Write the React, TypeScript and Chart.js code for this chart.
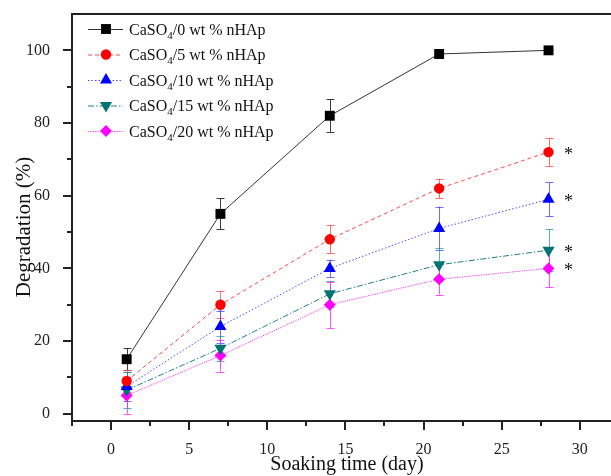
import React, { useEffect, useRef } from 'react';
import { Chart, registerables } from 'chart.js';

Chart.register(...registerables);

// ---------- data ----------
const days = [1, 7, 14, 21, 28];
const nhapContents = ['0', '5', '10', '15', '20'];
const deg0 = [15, 55, 82, 99, 100];
const err0 = [3, 4.3, 4.5, 1.2, 0.3];
const deg5 = [9, 30, 48, 62, 72];
const err5 = [3, 3.7, 3.8, 2.7, 3.8];
const deg10 = [7.5, 24, 40, 51, 59];
const err10 = [4, 4.4, 2.4, 6, 4.7];
const deg15 = [6.5, 18, 33, 41, 45];
const err15 = [5, 3.5, 3.5, 4.6, 5.7];
const deg20 = [5, 16, 30, 37, 40];
const err20 = [5, 4.4, 6.3, 4.2, 5.2];
const significant = [false, true, true, true, true]; // asterisk at last day

const xMajorTicks = [0, 5, 10, 15, 20, 25, 30];
const xMinorTicks = [-2.5, 2.5, 7.5, 12.5, 17.5, 22.5, 27.5];
const yMajorTicks = [0, 20, 40, 60, 80, 100];
const yMinorTicks = [10, 30, 50, 70, 90];

const xTitle = 'Soaking time (day)';
const yTitle = 'Degradation (%)';

// ---------- styles ----------
const FONT = '"Liberation Serif", "Times New Roman", Times, serif';
const styles = [
  { line: '#333333', fill: '#000000', err: 'rgba(0,0,0,0.75)', dash: [], shape: 'rect', r: 7, rot: 0 },
  { line: '#ff4a4a', fill: '#ff0000', err: 'rgba(255,60,60,0.75)', dash: [4, 3], shape: 'circle', r: 5.2, rot: 0 },
  { line: '#4a4aff', fill: '#0000ff', err: 'rgba(60,60,255,0.75)', dash: [1.5, 2], shape: 'triangle', r: 7, rot: 0 },
  { line: '#208080', fill: '#007373', err: 'rgba(40,150,150,0.75)', dash: [6, 2, 1.5, 2], shape: 'triangle', r: 7, rot: 180 },
  { line: '#ff33ff', fill: '#ff00ff', err: 'rgba(255,40,255,0.8)', dash: [1.2, 1.2], shape: 'rectRot', r: 6, rot: 0 },
];
const seriesValues = [deg0, deg5, deg10, deg15, deg20];
const seriesErrors = [err0, err5, err10, err15, err20];

function drawMarker(ctx: CanvasRenderingContext2D, shape: string, rot: number, x: number, y: number, r: number, color: string) {
  ctx.save();
  ctx.fillStyle = color;
  ctx.beginPath();
  if (shape === 'rect') {
    const s = Math.SQRT1_2 * r;
    ctx.rect(x - s, y - s, 2 * s, 2 * s);
  } else if (shape === 'circle') {
    ctx.arc(x, y, r, 0, Math.PI * 2);
  } else if (shape === 'triangle') {
    let a = (rot * Math.PI) / 180 - Math.PI / 2;
    ctx.moveTo(x + Math.cos(a) * r, y + Math.sin(a) * r);
    for (let k = 1; k < 3; k++) {
      a += (2 * Math.PI) / 3;
      ctx.lineTo(x + Math.cos(a) * r, y + Math.sin(a) * r);
    }
  } else if (shape === 'rectRot') {
    ctx.moveTo(x - r, y);
    ctx.lineTo(x, y - r);
    ctx.lineTo(x + r, y);
    ctx.lineTo(x, y + r);
  }
  ctx.closePath();
  ctx.fill();
  ctx.restore();
}

const decorPlugin = {
  id: 'decor',
  beforeDatasetsDraw(chart: any) {
    const ctx: CanvasRenderingContext2D = chart.ctx;
    const xs = chart.scales.x;
    const ys = chart.scales.y;
    ctx.save();
    ctx.lineWidth = 1;
    seriesValues.forEach((vals, si) => {
      ctx.strokeStyle = styles[si].err;
      vals.forEach((v, i) => {
        const e = seriesErrors[si][i];
        const px = Math.round(xs.getPixelForValue(days[i])) + 0.5;
        const y1 = ys.getPixelForValue(v + e);
        const y2 = ys.getPixelForValue(v - e);
        ctx.beginPath();
        ctx.moveTo(px, y1);
        ctx.lineTo(px, y2);
        ctx.moveTo(px - 4, Math.round(y1) + 0.5);
        ctx.lineTo(px + 4, Math.round(y1) + 0.5);
        ctx.moveTo(px - 4, Math.round(y2) + 0.5);
        ctx.lineTo(px + 4, Math.round(y2) + 0.5);
        ctx.stroke();
      });
    });
    ctx.restore();
  },
  afterDraw(chart: any) {
    const ctx: CanvasRenderingContext2D = chart.ctx;
    const xs = chart.scales.x;
    const ys = chart.scales.y;
    const { left, right, top, bottom } = chart.chartArea;
    ctx.save();
    // axes frame
    ctx.strokeStyle = '#222222';
    ctx.lineWidth = 2;
    ctx.beginPath();
    ctx.moveTo(left, top);
    ctx.lineTo(right + 2, top);
    ctx.moveTo(left, top - 1);
    ctx.lineTo(left, bottom + 1);
    ctx.moveTo(left - 1, bottom);
    ctx.lineTo(right + 2, bottom);
    ctx.stroke();
    // ticks
    ctx.lineWidth = 2;
    ctx.beginPath();
    xMajorTicks.forEach((v) => {
      const px = Math.round(xs.getPixelForValue(v));
      ctx.moveTo(px, bottom);
      ctx.lineTo(px, bottom + 9);
    });
    xMinorTicks.forEach((v) => {
      const px = Math.round(xs.getPixelForValue(v));
      ctx.moveTo(px, bottom);
      ctx.lineTo(px, bottom + 5);
    });
    yMajorTicks.forEach((v) => {
      const py = Math.round(ys.getPixelForValue(v));
      ctx.moveTo(left, py);
      ctx.lineTo(left - 9, py);
    });
    yMinorTicks.forEach((v) => {
      const py = Math.round(ys.getPixelForValue(v));
      ctx.moveTo(left, py);
      ctx.lineTo(left - 5, py);
    });
    ctx.stroke();

    // axis titles
    ctx.fillStyle = '#111111';
    ctx.font = `20px ${FONT}`;
    ctx.textAlign = 'center';
    ctx.textBaseline = 'middle';
    ctx.fillText(xTitle, 347, 465);
    ctx.save();
    ctx.translate(24, 227);
    ctx.rotate(-Math.PI / 2);
    ctx.font = `21px ${FONT}`;
    ctx.fillText(yTitle, 0, 0);
    ctx.restore();

    // asterisks
    ctx.font = `18px ${FONT}`;
    ctx.textAlign = 'center';
    ctx.textBaseline = 'middle';
    seriesValues.forEach((vals, si) => {
      if (!significant[si]) return;
      const last = vals.length - 1;
      const px = xs.getPixelForValue(days[last]) + 20;
      const py = ys.getPixelForValue(vals[last]) + 3;
      ctx.fillText('*', px, py);
    });

    // legend
    const lx0 = 88, lx1 = 123, mx = 106, tx = 129;
    seriesValues.forEach((_, si) => {
      const st = styles[si];
      const y = 29 + si * 25.5;
      ctx.save();
      ctx.strokeStyle = st.line;
      ctx.lineWidth = 1;
      ctx.setLineDash(st.dash);
      ctx.beginPath();
      ctx.moveTo(lx0, y + 0.5);
      ctx.lineTo(lx1, y + 0.5);
      ctx.stroke();
      ctx.restore();
      drawMarker(ctx, st.shape, st.rot, mx, y, st.r, st.fill);
      ctx.fillStyle = '#111111';
      ctx.textAlign = 'left';
      ctx.textBaseline = 'alphabetic';
      const base = y + 5.5;
      ctx.font = `16px ${FONT}`;
      let x = tx;
      ctx.fillText('CaSO', x, base);
      x += ctx.measureText('CaSO').width;
      ctx.font = `11px ${FONT}`;
      ctx.fillText('4', x, base + 4);
      x += ctx.measureText('4').width;
      ctx.font = `16px ${FONT}`;
      ctx.fillText(`/${nhapContents[si]} wt % nHAp`, x, base);
    });
    ctx.restore();
  },
};

function zeroPadding(scale: any) {
  scale.paddingTop = 0;
  scale.paddingBottom = 0;
  scale.paddingLeft = 0;
  scale.paddingRight = 0;
}

export default function App() {
  const canvasRef = useRef<HTMLCanvasElement | null>(null);

  useEffect(() => {
    const canvas = canvasRef.current;
    if (!canvas) return;
    const datasets = seriesValues.map((vals, si) => {
      const st = styles[si];
      return {
        label: `CaSO4/${nhapContents[si]} wt % nHAp`,
        data: days.map((d, i) => ({ x: d, y: vals[i] })),
        borderColor: st.line,
        backgroundColor: st.fill,
        borderWidth: 1,
        borderDash: st.dash,
        pointStyle: st.shape,
        pointRotation: st.rot,
        pointRadius: st.r,
        pointBackgroundColor: st.fill,
        pointBorderColor: st.fill,
        pointBorderWidth: 0,
        tension: 0,
        fill: false,
      };
    });
    const chart = new Chart(canvas, {
      type: 'line',
      data: { datasets },
      options: {
        animation: false,
        responsive: false,
        maintainAspectRatio: false,
        layout: { autoPadding: false, padding: { top: 14, left: 0, right: 0, bottom: 0 } },
        plugins: {
          legend: { display: false },
          tooltip: { enabled: false },
        },
        scales: {
          x: {
            type: 'linear',
            min: -2.5,
            max: 32,
            grid: { display: false },
            border: { display: false },
            afterBuildTicks: (scale: any) => {
              scale.ticks = xMajorTicks.map((v) => ({ value: v }));
            },
            afterFit: (scale: any) => {
              scale.height = 55;
              zeroPadding(scale);
            },
            ticks: {
              color: '#222222',
              font: { family: FONT, size: 16 },
              padding: 11,
              maxRotation: 0,
              autoSkip: false,
            },
          },
          y: {
            type: 'linear',
            min: -2,
            max: 110,
            grid: { display: false },
            border: { display: false },
            afterBuildTicks: (scale: any) => {
              scale.ticks = yMajorTicks.map((v) => ({ value: v }));
            },
            afterFit: (scale: any) => {
              scale.width = 72;
              zeroPadding(scale);
            },
            ticks: {
              color: '#222222',
              font: { family: FONT, size: 16 },
              padding: 14,
              autoSkip: false,
            },
          },
        },
      } as any,
      plugins: [decorPlugin],
    });
    return () => chart.destroy();
  }, []);

  return (
    <div style={{ position: 'absolute', left: 0, top: 0, width: 611, height: 476, background: '#ffffff' }}>
      <canvas ref={canvasRef} width={611} height={476} style={{ display: 'block' }} />
    </div>
  );
}
